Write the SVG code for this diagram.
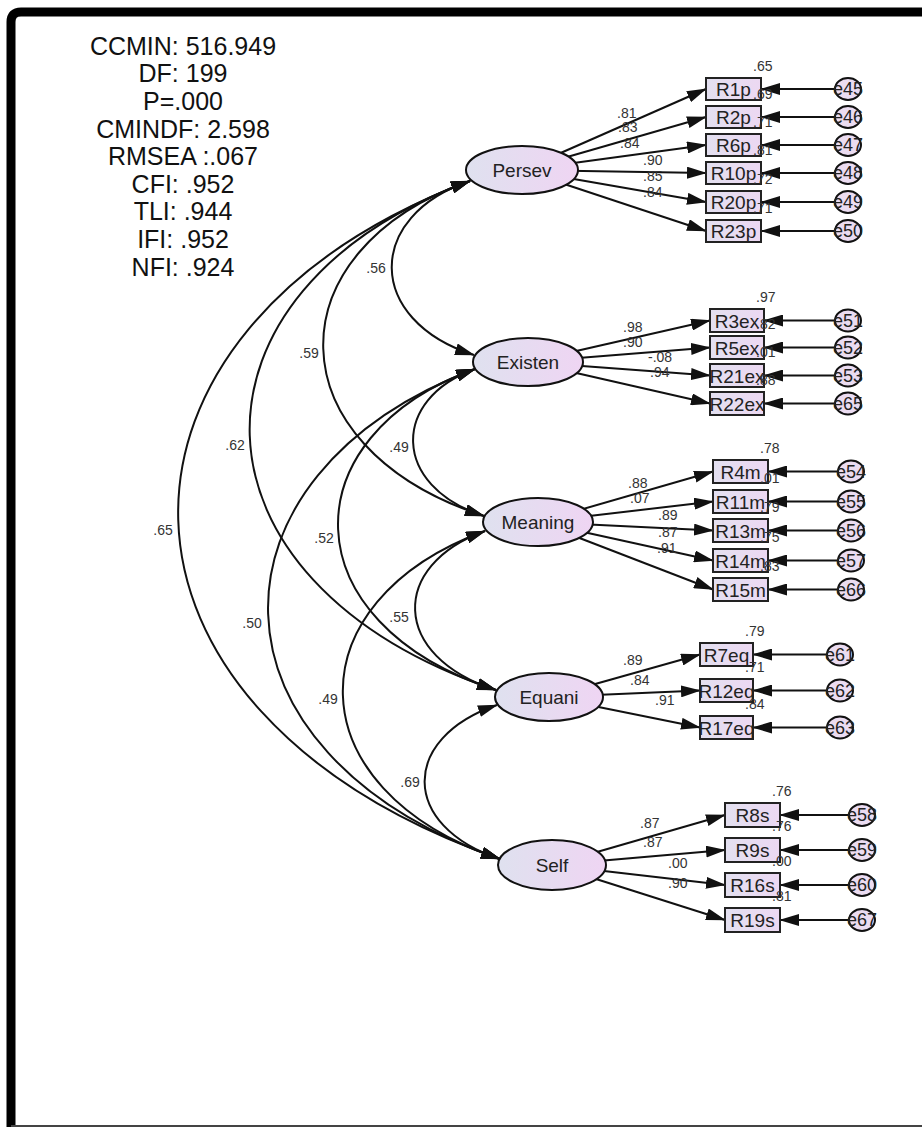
<svg xmlns="http://www.w3.org/2000/svg" width="922" height="1127" viewBox="0 0 922 1127">
<defs>
<linearGradient id="gL" x1="0" y1="0" x2="1" y2="0"><stop offset="0" stop-color="#dfe1ef"/><stop offset="1" stop-color="#efd5f3"/></linearGradient>
<linearGradient id="gB" x1="0" y1="0" x2="1" y2="0"><stop offset="0" stop-color="#e3e0f0"/><stop offset="1" stop-color="#ecd8f2"/></linearGradient>
<marker id="ar" markerUnits="userSpaceOnUse" viewBox="0 0 20 12" markerWidth="20" markerHeight="12" refX="19" refY="6" orient="auto-start-reverse"><path d="M0,0 L20,6 L0,12 z" fill="#111"/></marker>
<style>
.lat{fill:url(#gL);stroke:#111;stroke-width:2}
.box{fill:url(#gB);stroke:#222;stroke-width:2}
.err{fill:#ebdcf1;stroke:#111;stroke-width:2}
text{font-family:"Liberation Sans",Arial,sans-serif}
.lt{font-size:19px;text-anchor:middle;fill:#222}
.bt{font-size:19px;text-anchor:middle;fill:#222}
.et{font-size:18px;text-anchor:middle;fill:#222}
.sm{font-size:14px;fill:#333}
.cv{font-size:14px;fill:#333;text-anchor:middle}
.st{font-size:25px;text-anchor:middle;fill:#111}
.c{stroke:#111;stroke-width:2;fill:none}
.r{marker-end:url(#ar)}
.d{marker-start:url(#ar);marker-end:url(#ar)}
</style>
</defs>
<rect width="922" height="1127" fill="#fff"/>
<path d="M11,1127 V22 Q11,12 21,12 H922" fill="none" stroke="#000" stroke-width="9"/>
<line x1="11" y1="1126" x2="922" y2="1126" stroke="#444" stroke-width="2"/>

<g id="fit-stats">
<text class="st" x="183" y="55">CCMIN: 516.949</text>
<text class="st" x="183" y="82">DF: 199</text>
<text class="st" x="183" y="110">P=.000</text>
<text class="st" x="183" y="138">CMINDF: 2.598</text>
<text class="st" x="183" y="165">RMSEA :.067</text>
<text class="st" x="183" y="193">CFI: .952</text>
<text class="st" x="183" y="220">TLI: .944</text>
<text class="st" x="183" y="248">IFI: .952</text>
<text class="st" x="183" y="276">NFI: .924</text>
</g>

<g id="connectors" class="c">
<!-- covariances -->
<path class="d" d="M470,181 C365,216 365,320 474,355"/>
<path class="d" d="M470,181 C272,250 272,447 484,516"/>
<path class="d" d="M470,181 C172,290 172,581 496,690"/>
<path class="d" d="M470,181 C76,330 76,710 500,859"/>
<path class="d" d="M475,369 C391,399 391,486 484,516"/>
<path class="d" d="M475,369 C289,436 289,623 496,690"/>
<path class="d" d="M475,369 C195,475 195,753 500,859"/>
<path class="d" d="M485,531 C390,565 390,656 496,690"/>
<path class="d" d="M485,531 C293,601 293,789 500,859"/>
<path class="d" d="M497,705 C400,738 400,826 500,859"/>
<!-- Persev loadings -->
<line class="r" x1="522" y1="170" x2="706" y2="89"/>
<line class="r" x1="522" y1="170" x2="706" y2="117"/>
<line class="r" x1="522" y1="170" x2="706" y2="145"/>
<line class="r" x1="522" y1="170" x2="706" y2="173"/>
<line class="r" x1="522" y1="170" x2="706" y2="202"/>
<line class="r" x1="522" y1="170" x2="706" y2="231"/>
<!-- Existen loadings -->
<line class="r" x1="528" y1="362" x2="710" y2="320.5"/>
<line class="r" x1="528" y1="362" x2="710" y2="347.5"/>
<line class="r" x1="528" y1="362" x2="710" y2="375.5"/>
<line class="r" x1="528" y1="362" x2="710" y2="403.5"/>
<!-- Meaning loadings -->
<line class="r" x1="538" y1="522" x2="713" y2="471.5"/>
<line class="r" x1="538" y1="522" x2="713" y2="501.5"/>
<line class="r" x1="538" y1="522" x2="713" y2="530.5"/>
<line class="r" x1="538" y1="522" x2="713" y2="560.5"/>
<line class="r" x1="538" y1="522" x2="713" y2="589.5"/>
<!-- Equani loadings -->
<line class="r" x1="549" y1="697" x2="700" y2="654.5"/>
<line class="r" x1="549" y1="697" x2="700" y2="690.5"/>
<line class="r" x1="549" y1="697" x2="700" y2="727.5"/>
<!-- Self loadings -->
<line class="r" x1="552" y1="865" x2="725" y2="815"/>
<line class="r" x1="552" y1="865" x2="725" y2="850"/>
<line class="r" x1="552" y1="865" x2="725" y2="885"/>
<line class="r" x1="552" y1="865" x2="725" y2="920"/>
<!-- error arrows -->
<line class="r" x1="848" y1="89" x2="761" y2="89"/>
<line class="r" x1="848" y1="117" x2="761" y2="117"/>
<line class="r" x1="848" y1="145" x2="761" y2="145"/>
<line class="r" x1="848" y1="173" x2="761" y2="173"/>
<line class="r" x1="848" y1="202" x2="761" y2="202"/>
<line class="r" x1="848" y1="231" x2="761" y2="231"/>
<line class="r" x1="848" y1="320.5" x2="764" y2="320.5"/>
<line class="r" x1="848" y1="347.5" x2="764" y2="347.5"/>
<line class="r" x1="848" y1="375.5" x2="764" y2="375.5"/>
<line class="r" x1="848" y1="403.5" x2="764" y2="403.5"/>
<line class="r" x1="851" y1="471.5" x2="768" y2="471.5"/>
<line class="r" x1="851" y1="501.5" x2="768" y2="501.5"/>
<line class="r" x1="851" y1="530.5" x2="768" y2="530.5"/>
<line class="r" x1="851" y1="560.5" x2="768" y2="560.5"/>
<line class="r" x1="851" y1="589.5" x2="768" y2="589.5"/>
<line class="r" x1="840" y1="654.5" x2="753" y2="654.5"/>
<line class="r" x1="840" y1="690.5" x2="753" y2="690.5"/>
<line class="r" x1="840" y1="727.5" x2="753" y2="727.5"/>
<line class="r" x1="862" y1="815" x2="780" y2="815"/>
<line class="r" x1="862" y1="850" x2="780" y2="850"/>
<line class="r" x1="862" y1="885" x2="780" y2="885"/>
<line class="r" x1="862" y1="920" x2="780" y2="920"/>
</g>

<g id="cov-labels">
<text class="cv" x="376" y="273">.56</text>
<text class="cv" x="309" y="358">.59</text>
<text class="cv" x="235" y="450">.62</text>
<text class="cv" x="163" y="535">.65</text>
<text class="cv" x="399" y="452">.49</text>
<text class="cv" x="324" y="543">.52</text>
<text class="cv" x="252" y="628">.50</text>
<text class="cv" x="399" y="622">.55</text>
<text class="cv" x="328" y="704">.49</text>
<text class="cv" x="410" y="787">.69</text>
</g>

<g id="load-labels" class="sm">
<text x="617" y="118">.81</text>
<text x="618" y="132">.83</text>
<text x="620" y="148">.84</text>
<text x="643" y="165">.90</text>
<text x="643" y="181">.85</text>
<text x="643" y="197">.84</text>
<text x="623" y="332">.98</text>
<text x="623" y="347">.90</text>
<text x="648" y="362">-.08</text>
<text x="650" y="377">.94</text>
<text x="628" y="488">.88</text>
<text x="630" y="503">.07</text>
<text x="658" y="520">.89</text>
<text x="658" y="537">.87</text>
<text x="657" y="553">.91</text>
<text x="623" y="665">.89</text>
<text x="630" y="685">.84</text>
<text x="655" y="705">.91</text>
<text x="640" y="828">.87</text>
<text x="643" y="847">.87</text>
<text x="668" y="868">.00</text>
<text x="668" y="888">.90</text>
</g>

<g id="Persev"><ellipse class="lat" cx="522" cy="170" rx="56" ry="24"/><text class="lt" x="522" y="177">Persev</text></g>
<g id="Existen"><ellipse class="lat" cx="528" cy="362" rx="55" ry="24"/><text class="lt" x="528" y="369">Existen</text></g>
<g id="Meaning"><ellipse class="lat" cx="538" cy="522" rx="55" ry="24"/><text class="lt" x="538" y="529">Meaning</text></g>
<g id="Equani"><ellipse class="lat" cx="549" cy="697" rx="54" ry="24"/><text class="lt" x="549" y="704">Equani</text></g>
<g id="Self"><ellipse class="lat" cx="552" cy="865" rx="54" ry="25"/><text class="lt" x="552" y="872">Self</text></g>

<g id="R1p"><rect class="box" x="706" y="78" width="55" height="22"/><text class="bt" x="733.5" y="96">R1p</text></g>
<g id="R2p"><rect class="box" x="706" y="106" width="55" height="22"/><text class="bt" x="733.5" y="124">R2p</text></g>
<g id="R6p"><rect class="box" x="706" y="134" width="55" height="22"/><text class="bt" x="733.5" y="152">R6p</text></g>
<g id="R10p"><rect class="box" x="706" y="162" width="55" height="22"/><text class="bt" x="733.5" y="180">R10p</text></g>
<g id="R20p"><rect class="box" x="706" y="191" width="55" height="22"/><text class="bt" x="733.5" y="209">R20p</text></g>
<g id="R23p"><rect class="box" x="706" y="220" width="55" height="22"/><text class="bt" x="733.5" y="238">R23p</text></g>

<g id="R3ex"><rect class="box" x="710" y="309" width="54" height="23"/><text class="bt" x="737" y="327.5">R3ex</text></g>
<g id="R5ex"><rect class="box" x="710" y="336" width="54" height="23"/><text class="bt" x="737" y="354.5">R5ex</text></g>
<g id="R21ex"><rect class="box" x="710" y="364" width="54" height="23"/><text class="bt" x="737" y="382.5">R21ex</text></g>
<g id="R22ex"><rect class="box" x="710" y="392" width="54" height="23"/><text class="bt" x="737" y="410.5">R22ex</text></g>

<g id="R4m"><rect class="box" x="713" y="460" width="55" height="23"/><text class="bt" x="740.5" y="478.5">R4m</text></g>
<g id="R11m"><rect class="box" x="713" y="490" width="55" height="23"/><text class="bt" x="740.5" y="508.5">R11m</text></g>
<g id="R13m"><rect class="box" x="713" y="519" width="55" height="23"/><text class="bt" x="740.5" y="537.5">R13m</text></g>
<g id="R14m"><rect class="box" x="713" y="549" width="55" height="23"/><text class="bt" x="740.5" y="567.5">R14m</text></g>
<g id="R15m"><rect class="box" x="713" y="578" width="55" height="23"/><text class="bt" x="740.5" y="596.5">R15m</text></g>

<g id="R7eq"><rect class="box" x="700" y="643" width="53" height="23"/><text class="bt" x="726.5" y="661.5">R7eq</text></g>
<g id="R12eq"><rect class="box" x="700" y="679" width="53" height="23"/><text class="bt" x="726.5" y="697.5">R12eq</text></g>
<g id="R17eq"><rect class="box" x="700" y="716" width="53" height="23"/><text class="bt" x="726.5" y="734.5">R17eq</text></g>

<g id="R8s"><rect class="box" x="725" y="803" width="55" height="24"/><text class="bt" x="752.5" y="822">R8s</text></g>
<g id="R9s"><rect class="box" x="725" y="838" width="55" height="24"/><text class="bt" x="752.5" y="857">R9s</text></g>
<g id="R16s"><rect class="box" x="725" y="873" width="55" height="24"/><text class="bt" x="752.5" y="892">R16s</text></g>
<g id="R19s"><rect class="box" x="725" y="908" width="55" height="24"/><text class="bt" x="752.5" y="927">R19s</text></g>

<g id="e45"><ellipse class="err" cx="848" cy="89" rx="13" ry="11"/><text class="et" x="848" y="95">e45</text></g>
<g id="e46"><ellipse class="err" cx="848" cy="117" rx="13" ry="11"/><text class="et" x="848" y="123">e46</text></g>
<g id="e47"><ellipse class="err" cx="848" cy="145" rx="13" ry="11"/><text class="et" x="848" y="151">e47</text></g>
<g id="e48"><ellipse class="err" cx="848" cy="173" rx="13" ry="11"/><text class="et" x="848" y="179">e48</text></g>
<g id="e49"><ellipse class="err" cx="848" cy="202" rx="13" ry="11"/><text class="et" x="848" y="208">e49</text></g>
<g id="e50"><ellipse class="err" cx="848" cy="231" rx="13" ry="11"/><text class="et" x="848" y="237">e50</text></g>
<g id="e51"><ellipse class="err" cx="848" cy="320.5" rx="13" ry="11"/><text class="et" x="848" y="326.5">e51</text></g>
<g id="e52"><ellipse class="err" cx="848" cy="347.5" rx="13" ry="11"/><text class="et" x="848" y="353.5">e52</text></g>
<g id="e53"><ellipse class="err" cx="848" cy="375.5" rx="13" ry="11"/><text class="et" x="848" y="381.5">e53</text></g>
<g id="e65"><ellipse class="err" cx="848" cy="403.5" rx="13" ry="11"/><text class="et" x="848" y="409.5">e65</text></g>
<g id="e54"><ellipse class="err" cx="851" cy="471.5" rx="13" ry="11"/><text class="et" x="851" y="477.5">e54</text></g>
<g id="e55"><ellipse class="err" cx="851" cy="501.5" rx="13" ry="11"/><text class="et" x="851" y="507.5">e55</text></g>
<g id="e56"><ellipse class="err" cx="851" cy="530.5" rx="13" ry="11"/><text class="et" x="851" y="536.5">e56</text></g>
<g id="e57"><ellipse class="err" cx="851" cy="560.5" rx="13" ry="11"/><text class="et" x="851" y="566.5">e57</text></g>
<g id="e66"><ellipse class="err" cx="851" cy="589.5" rx="13" ry="11"/><text class="et" x="851" y="595.5">e66</text></g>
<g id="e61"><ellipse class="err" cx="840" cy="654.5" rx="13" ry="11"/><text class="et" x="840" y="660.5">e61</text></g>
<g id="e62"><ellipse class="err" cx="840" cy="690.5" rx="13" ry="11"/><text class="et" x="840" y="696.5">e62</text></g>
<g id="e63"><ellipse class="err" cx="840" cy="727.5" rx="13" ry="11"/><text class="et" x="840" y="733.5">e63</text></g>
<g id="e58"><ellipse class="err" cx="862" cy="815" rx="13" ry="11"/><text class="et" x="862" y="821">e58</text></g>
<g id="e59"><ellipse class="err" cx="862" cy="850" rx="13" ry="11"/><text class="et" x="862" y="856">e59</text></g>
<g id="e60"><ellipse class="err" cx="862" cy="885" rx="13" ry="11"/><text class="et" x="862" y="891">e60</text></g>
<g id="e67"><ellipse class="err" cx="862" cy="920" rx="13" ry="11"/><text class="et" x="862" y="926">e67</text></g>

<g id="r2-labels" class="sm">
<text x="753" y="71">.65</text>
<text x="753" y="99">.69</text>
<text x="753" y="127">.71</text>
<text x="753" y="155">.81</text>
<text x="753" y="184">.72</text>
<text x="753" y="213">.71</text>
<text x="756" y="302">.97</text>
<text x="756" y="329">.82</text>
<text x="756" y="357">.01</text>
<text x="756" y="385">.88</text>
<text x="760" y="453">.78</text>
<text x="760" y="483">.01</text>
<text x="760" y="512">.79</text>
<text x="760" y="542">.75</text>
<text x="760" y="571">.83</text>
<text x="745" y="636">.79</text>
<text x="745" y="672">.71</text>
<text x="745" y="709">.84</text>
<text x="772" y="796">.76</text>
<text x="772" y="831">.76</text>
<text x="772" y="866">.00</text>
<text x="772" y="901">.81</text>
</g>
</svg>
